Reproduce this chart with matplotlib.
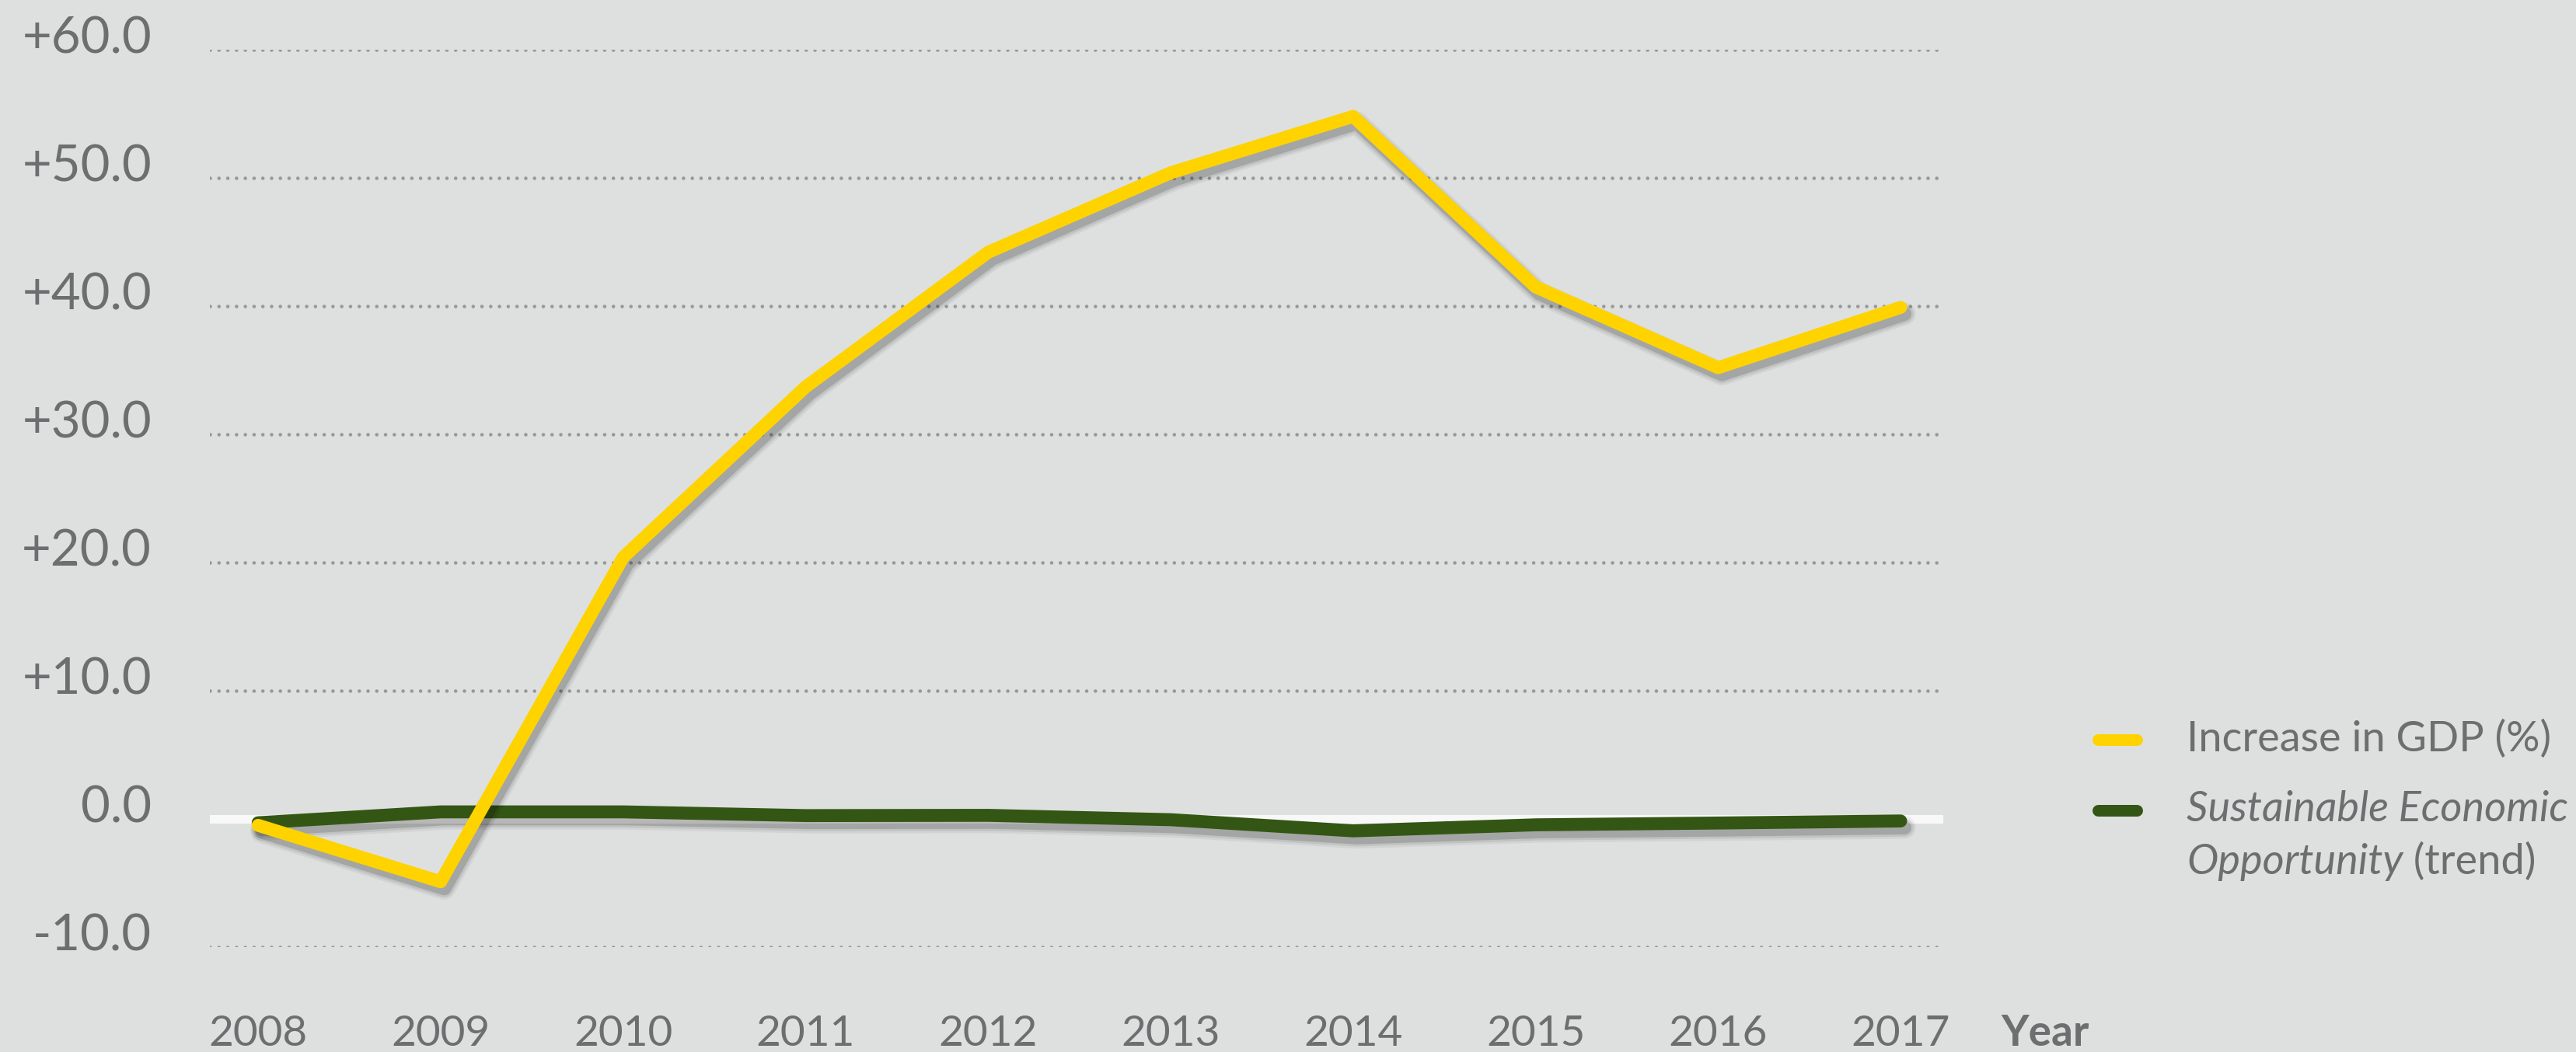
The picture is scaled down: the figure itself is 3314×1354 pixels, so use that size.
import matplotlib
matplotlib.use("Agg")
import matplotlib.pyplot as plt
import matplotlib.patheffects as pe
from matplotlib.lines import Line2D

# Values
years = [2008, 2009, 2010, 2011, 2012, 2013, 2014, 2015, 2016, 2017]
gdp_increase = [-0.5, -4.9, 20.4, 33.7, 44.2, 50.4, 54.8, 41.5, 35.2, 39.9]
seo_trend = [-0.3, 0.55, 0.55, 0.26, 0.28, -0.06, -0.93, -0.46, -0.32, -0.16]

y_ticks = [-10, 0, 10, 20, 30, 40, 50, 60]
y_tick_labels = ["-10.0", "0.0", "+10.0", "+20.0", "+30.0", "+40.0", "+50.0", "+60.0"]
x_tick_labels = [str(y) for y in years]

legend_gdp = "Increase in GDP (%)"
legend_seo_1 = "Sustainable Economic"
legend_seo_2 = "Opportunity"
legend_seo_3 = " (trend)"
x_title = "Year"

# Colours
bg = "#dee0df"
text_col = "#6c6e6f"
grid_col = "#979898"
yellow = "#fed300"
green = "#345614"

plt.rcParams["font.family"] = ["Lato", "DejaVu Sans"]

fig = plt.figure(figsize=(33.14, 13.54), dpi=100, facecolor=bg)
ax = fig.add_axes([0.0815, 0.0997, 0.6729, 0.853])
ax.set_facecolor(bg)
for s in ax.spines.values():
    s.set_visible(False)
ax.set_xticks([])
ax.set_yticks([])
ax.set_xlim(2007.736, 2017.234)
ax.set_ylim(-10, 60)

# dotted grid, white zero line
for v in y_ticks:
    if v == 0:
        ax.axhline(0, color="#f8f8f8", lw=8, zorder=1)
    else:
        ax.axhline(v, color=grid_col, lw=3.3, linestyle=(0, (0.01, 2.45)),
                   dash_capstyle="round", zorder=1)


def shadow(lw):
    # stacked shadows to fake a soft blur
    return [
        pe.SimpleLineShadow(offset=(3.5, -6), shadow_color="k", alpha=0.05, linewidth=lw + 9),
        pe.SimpleLineShadow(offset=(3.5, -6), shadow_color="k", alpha=0.08, linewidth=lw + 5),
        pe.SimpleLineShadow(offset=(3.5, -6), shadow_color="k", alpha=0.15, linewidth=lw + 1),
        pe.Normal(),
    ]


ax.plot(years, seo_trend, color=green, lw=12, solid_capstyle="round",
        solid_joinstyle="round", zorder=3, clip_on=False, path_effects=shadow(12))
ax.plot(years, gdp_increase, color=yellow, lw=12, solid_capstyle="round",
        solid_joinstyle="round", zorder=4, clip_on=False, path_effects=shadow(12))

# y tick labels
for v, lab in zip(y_ticks, y_tick_labels):
    ax.annotate(lab, xy=(0, v), xycoords=ax.get_yaxis_transform(),
                xytext=(-54, -3), textcoords="offset points",
                ha="right", va="baseline", fontsize=47, color=text_col)

# x tick labels
for yr, lab in zip(years, x_tick_labels):
    ax.annotate(lab, xy=(yr, 0), xycoords=ax.get_xaxis_transform(),
                xytext=(0, -91.5), textcoords="offset points",
                ha="center", va="baseline", fontsize=39.5, color=text_col)

fig.text(0.7767, 0.0059, x_title, ha="left", va="baseline", fontsize=39.5,
         fontweight="bold", color=text_col)

# legend
fig.add_artist(Line2D([0.8143, 0.8296], [0.2969, 0.2969], color=yellow, lw=10.8,
                      solid_capstyle="round", transform=fig.transFigure))
fig.add_artist(Line2D([0.8143, 0.8296], [0.2297, 0.2297], color=green, lw=10.8,
                      solid_capstyle="round", transform=fig.transFigure))
fig.text(0.8488, 0.2858, legend_gdp, ha="left", va="baseline", fontsize=39,
         color=text_col)
fig.text(0.8488, 0.2194, legend_seo_1, ha="left", va="baseline", fontsize=39,
         style="italic", color=text_col)
t = fig.text(0.8488, 0.1691, legend_seo_2, ha="left", va="baseline", fontsize=39,
             style="italic", color=text_col)
fig.add_artist(plt.Annotation(legend_seo_3, xy=(1, 0), xycoords=t,
                              ha="left", va="bottom", fontsize=39, color=text_col))

fig.savefig("out.png", dpi=100, facecolor=bg)
